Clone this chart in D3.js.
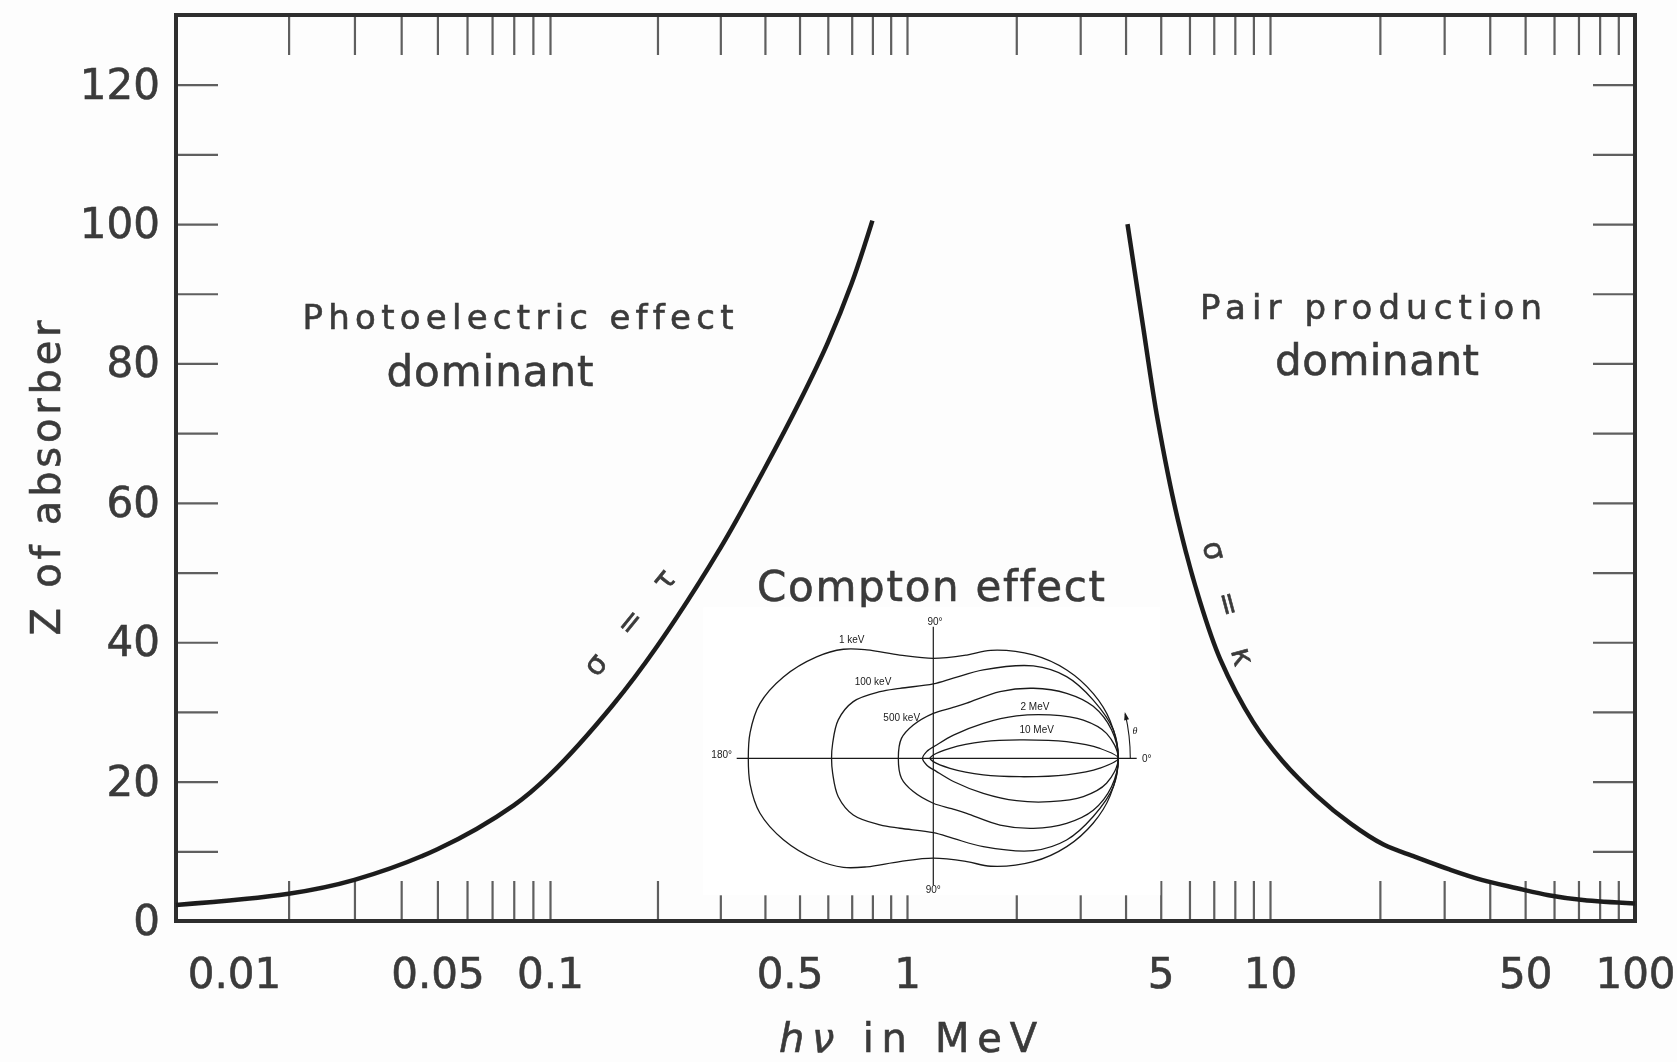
<!DOCTYPE html>
<html>
<head>
<meta charset="utf-8">
<script src="https://cdn.jsdelivr.net/npm/d3@7"></script>
<style>
  body { margin: 0; background: #fdfdfd; }
  svg { display: block; }
  text { font-variant-ligatures: none; }
</style>
</head>
<body>
<div id="chart"></div>
<script>
var svgWidth = 1677;
var svgHeight = 1062;

var margin = {
  top: 15,
  right: 42,
  bottom: 141,
  left: 176
};

var width = svgWidth - margin.left - margin.right;
var height = svgHeight - margin.top - margin.bottom;

// boundary where photoelectric = Compton (sigma = tau), hv in MeV vs Z
var photoEnergy = [0.01, 0.02, 0.03, 0.05, 0.08, 0.1, 0.15, 0.2, 0.3, 0.4, 0.5, 0.6, 0.7, 0.8];
var photoZ = [2.3, 3.9, 5.9, 10.3, 16.6, 21, 31, 39.5, 53.5, 65, 74.5, 83, 91.5, 100.5];

// boundary where pair production = Compton (sigma = kappa)
var pairEnergy = [4.05, 4.45, 4.9, 5.55, 6.4, 7.3, 9.0, 10.8, 13.4, 16.6, 20.4, 25, 31, 38, 47.5, 58, 72, 100];
var pairZ = [100, 86, 72, 58, 46, 37.5, 28.5, 23, 18, 14, 11, 9.2, 7.4, 5.9, 4.7, 3.7, 3.0, 2.5];

// axis labels
var xTickLabels = [0.01, 0.05, 0.1, 0.5, 1, 5, 10, 50, 100];
var yTickLabels = [0, 20, 40, 60, 80, 100, 120];

// Compton angular distribution (polar, theta in degrees, relative cross section)
var keV1 = [[0, 1], [12, 0.977], [22, 0.933], [33.5, 0.865], [46, 0.777], [62, 0.661], [72, 0.587], [90, 0.54], [108, 0.587], [121.5, 0.688], [129.5, 0.764], [139, 0.836], [151.5, 0.922], [162.5, 0.983], [172, 1], [180, 1]];
var keV100 = [[0, 1], [9, 0.985], [20, 0.92], [31.5, 0.845], [42.7, 0.736], [60.5, 0.549], [76, 0.446], [90, 0.402], [115.5, 0.419], [128.7, 0.461], [144.7, 0.53], [158, 0.554], [171.5, 0.55], [180, 0.55]];
var keV500 = [[0, 1], [9, 0.976], [18, 0.909], [26, 0.802], [35, 0.66], [45, 0.51], [58.8, 0.348], [70, 0.29], [90, 0.243], [121, 0.21], [148, 0.203], [180, 0.189]];
var MeV2 = [[0, 1], [8.2, 0.946], [14.3, 0.837], [20.4, 0.673], [27, 0.505], [35, 0.33], [49, 0.166], [76, 0.074], [135, 0.051], [180, 0.058]];
var MeV10 = [[0, 1], [3.4, 0.902], [7.1, 0.726], [12, 0.479], [18.4, 0.285], [31, 0.105], [90, 0.018], [180, 0.018]];

var inkColor = "#3a3a3a";
var mainFont = "DejaVu Sans";

var svg = d3
  .select("#chart")
  .append("svg")
  .attr("width", svgWidth)
  .attr("height", svgHeight);

// slight softness on the printed chart
svg.append("defs")
  .append("filter")
  .attr("id", "soft")
  .append("feGaussianBlur")
  .attr("stdDeviation", 0.65);

var chartGroup = svg.append("g")
  .attr("transform", `translate(${margin.left}, ${margin.top})`)
  .attr("filter", "url(#soft)");

// scales
var xScale = d3.scaleLog()
  .domain([0.01, 0.1, 1, 10, 100])
  .range([0, 374, 731, 1094, width]);

var yScale = d3.scaleLinear()
  .domain([0, 130])
  .range([height, 0]);

var xMinor = xScale.ticks().filter(d => d > 0.01 && d < 100);
var yMinor = yScale.ticks(13).filter(d => d > 0 && d < 130);

function styleTicks(g) {
  g.select(".domain").remove();
  g.selectAll(".tick line")
    .attr("stroke", "#5e5e5e")
    .attr("stroke-width", 2.2);
}

// printed text is a little heavier than the plain face
function inkText(sel) {
  sel.attr("font-family", mainFont)
    .attr("fill", inkColor)
    .attr("stroke", inkColor)
    .attr("stroke-width", 0.6);
}

// inward ticks on all four sides
chartGroup.append("g")
  .attr("transform", `translate(0, ${height})`)
  .call(d3.axisBottom(xScale).tickValues(xMinor).tickSize(-40).tickFormat(""))
  .call(styleTicks);

chartGroup.append("g")
  .call(d3.axisTop(xScale).tickValues(xMinor).tickSize(-40).tickFormat(""))
  .call(styleTicks);

chartGroup.append("g")
  .call(d3.axisLeft(yScale).tickValues(yMinor).tickSize(-42).tickFormat(""))
  .call(styleTicks);

chartGroup.append("g")
  .attr("transform", `translate(${width}, 0)`)
  .call(d3.axisRight(yScale).tickValues(yMinor).tickSize(-42).tickFormat(""))
  .call(styleTicks);

// tick labels
var xLabelGroup = chartGroup.append("g")
  .attr("transform", `translate(0, ${height})`)
  .call(d3.axisBottom(xScale).tickValues(xTickLabels).tickSize(0).tickPadding(37).tickFormat(d => d));
xLabelGroup.select(".domain").remove();
xLabelGroup.selectAll(".tick text")
  .call(inkText)
  .attr("font-size", 42)
  .attr("dx", d => d === 0.01 ? 58 : (d === 0.5 ? -10 : 0));

var yLabelGroup = chartGroup.append("g")
  .call(d3.axisLeft(yScale).tickValues(yTickLabels).tickSize(0).tickPadding(16));
yLabelGroup.select(".domain").remove();
yLabelGroup.selectAll(".tick text")
  .call(inkText)
  .attr("font-size", 42);

// frame
chartGroup.append("rect")
  .attr("x", 0)
  .attr("y", 0)
  .attr("width", width)
  .attr("height", height)
  .attr("fill", "none")
  .attr("stroke", "#2e2e2e")
  .attr("stroke-width", 4);

// boundary curves
var boundary = d3.line()
  .x(d => xScale(d[0]))
  .y(d => yScale(d[1]))
  .curve(d3.curveCatmullRom.alpha(0.5));

chartGroup.append("path")
  .datum(d3.zip(photoEnergy, photoZ))
  .attr("d", boundary)
  .attr("fill", "none")
  .attr("stroke", "#1e1e1e")
  .attr("stroke-width", 4.5);

chartGroup.append("path")
  .datum(d3.zip(pairEnergy, pairZ))
  .attr("d", boundary)
  .attr("fill", "none")
  .attr("stroke", "#1e1e1e")
  .attr("stroke-width", 4.5);

// region labels
function addLabel(txt, cx, cy, size, len) {
  return chartGroup.append("text")
    .attr("x", cx - margin.left)
    .attr("y", cy - margin.top)
    .attr("text-anchor", "middle")
    .call(inkText)
    .attr("font-size", size)
    .attr("textLength", len)
    .attr("lengthAdjust", "spacing")
    .text(txt);
}

addLabel("Photoelectric effect", 518, 329, 34, 431);
addLabel("dominant", 490, 386, 42, 207);
addLabel("Pair production", 1371, 319, 34, 342);
addLabel("dominant", 1377, 375, 42, 204);
addLabel("Compton effect", 931, 601, 42, 348);

// curve annotations
function addRelation(txt, cx, cy, angle, len) {
  chartGroup.append("text")
    .attr("transform", `translate(${cx - margin.left}, ${cy - margin.top}) rotate(${angle})`)
    .attr("text-anchor", "middle")
    .attr("dominant-baseline", "central")
    .call(inkText)
    .attr("font-size", 30)
    .attr("textLength", len)
    .attr("lengthAdjust", "spacing")
    .text(txt);
}

addRelation("σ = τ", 629, 622, -51, 128);
addRelation("σ = κ", 1229, 603, 75, 128);

// axis titles
chartGroup.append("text")
  .attr("transform", `translate(${60 - margin.left}, ${478 - margin.top}) rotate(-90)`)
  .attr("text-anchor", "middle")
  .call(inkText)
  .attr("font-size", 40)
  .attr("textLength", 315)
  .attr("lengthAdjust", "spacing")
  .text("Z of absorber");

var xTitle = chartGroup.append("text")
  .attr("x", 908 - margin.left)
  .attr("y", 1052 - margin.top)
  .attr("text-anchor", "middle")
  .call(inkText)
  .attr("font-size", 40)
  .attr("textLength", 258)
  .attr("lengthAdjust", "spacing");
xTitle.append("tspan").attr("font-style", "italic").text("hν");
xTitle.append("tspan").text(" in MeV");

// ---- Compton angular distribution inset ----
var inset = svg.append("g")
  .attr("transform", "translate(933.3, 758.3)");

inset.append("rect")
  .attr("x", -230)
  .attr("y", -151)
  .attr("width", 457)
  .attr("height", 288)
  .attr("fill", "#ffffff");

var rScale = d3.scaleLinear().domain([0, 1]).range([0, 185]);

var lobe = d3.lineRadial()
  .angle(d => d.a)
  .radius(d => rScale(d.r))
  .curve(d3.curveCatmullRomClosed.alpha(0.5));

// mirror the upper half (0..180 deg) to get the closed outline
function outline(pts) {
  var upper = pts.map(p => ({ a: Math.PI / 2 - p[0] * Math.PI / 180, r: p[1] }));
  var lower = pts.slice(1, -1).reverse().map(p => ({ a: Math.PI / 2 + p[0] * Math.PI / 180, r: p[1] }));
  return upper.concat(lower);
}

// polar axes
inset.append("line")
  .attr("x1", -196.6).attr("y1", 0)
  .attr("x2", 203.4).attr("y2", 0)
  .attr("stroke", "#1a1a1a")
  .attr("stroke-width", 1.2);
inset.append("line")
  .attr("x1", 0).attr("y1", -131.6)
  .attr("x2", 0).attr("y2", 126.7)
  .attr("stroke", "#1a1a1a")
  .attr("stroke-width", 1.2);

[keV1, keV100, keV500, MeV2, MeV10].forEach(function (pts) {
  inset.append("path")
    .attr("d", lobe(outline(pts)))
    .attr("fill", "none")
    .attr("stroke", "#1a1a1a")
    .attr("stroke-width", 1.3);
});

// theta arrow
var arrowR = 197;
var arrowEnd = 13 * Math.PI / 180;
var arc = d3.path();
arc.moveTo(arrowR, 0);
arc.arc(0, 0, arrowR, 0, -arrowEnd, true);
inset.append("path")
  .attr("d", arc.toString())
  .attr("fill", "none")
  .attr("stroke", "#1a1a1a")
  .attr("stroke-width", 1.1);

var tipX = arrowR * Math.cos(arrowEnd);
var tipY = -arrowR * Math.sin(arrowEnd);
var dirX = -Math.sin(arrowEnd), dirY = -Math.cos(arrowEnd);
inset.append("path")
  .attr("d", `M${tipX + 2 * dirX},${tipY + 2 * dirY}`
    + `L${tipX - 6 * dirX - 2.5 * dirY},${tipY - 6 * dirY + 2.5 * dirX}`
    + `L${tipX - 6 * dirX + 2.5 * dirY},${tipY - 6 * dirY - 2.5 * dirX}Z`)
  .attr("fill", "#1a1a1a");

var insetLabels = [
  { t: "1 keV", x: -81.6, y: -119.3 },
  { t: "100 keV", x: -60.3, y: -76.6 },
  { t: "500 keV", x: -31.6, y: -41.3 },
  { t: "2 MeV", x: 101.7, y: -52.3 },
  { t: "10 MeV", x: 103.4, y: -29.3 },
  { t: "180°", x: -211.6, y: -4.3 },
  { t: "0°", x: 213.4, y: 0 },
  { t: "90°", x: 1.7, y: -136.6 },
  { t: "90°", x: 0, y: 131.7 }
];

inset.selectAll("text.lbl")
  .data(insetLabels)
  .enter()
  .append("text")
  .attr("class", "lbl")
  .attr("x", d => d.x)
  .attr("y", d => d.y)
  .attr("text-anchor", "middle")
  .attr("dominant-baseline", "central")
  .attr("font-family", "Liberation Sans")
  .attr("font-size", 10)
  .attr("fill", "#1a1a1a")
  .text(d => d.t);

inset.append("text")
  .attr("x", 201.7)
  .attr("y", -28.3)
  .attr("text-anchor", "middle")
  .attr("dominant-baseline", "central")
  .attr("font-family", "Liberation Serif")
  .attr("font-style", "italic")
  .attr("font-size", 10)
  .attr("fill", "#1a1a1a")
  .text("θ");
</script>
</body>
</html>
